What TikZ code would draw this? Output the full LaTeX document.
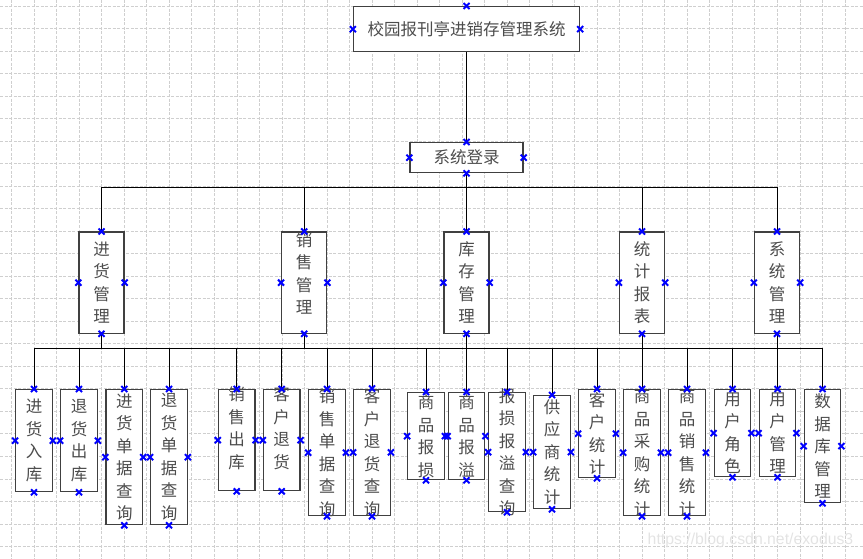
\documentclass[tikz,border=0pt]{standalone}
\usepackage{fontspec}
\newfontfamily\cjk{Noto Sans CJK SC}
\newfontfamily\wmfont{Liberation Sans}
\usetikzlibrary{shapes.misc}

\tikzset{
  gridline/.style={gray!38, line width=0.8pt, dash pattern=on 3pt off 1.5pt},
  conn/.style={line width=0.9pt},
  box/.style={draw=black!75, line width=1.3pt, fill=white, inner sep=0pt,
    minimum width=36.5, anchor=north},
  txt/.style={font=\cjk\fontsize{16.5}{22.5}\selectfont, text=black!70,
    align=center, inner sep=0pt},
  cpt/.style={cross out, draw=blue, line width=2pt, minimum size=4pt, inner sep=0pt},
}

\begin{document}
\begin{tikzpicture}[x=1pt, y=-1pt]
\useasboundingbox (0,0) rectangle (863,559);

\foreach \i in {0,...,37} \draw[gridline] ({11.7+22.52*\i},0) -- ++(0,559);
\foreach \j in {0,...,24} \draw[gridline] (0,{6+22.52*\j}) -- ++(863,0);

\node[box, minimum width=226, minimum height=45] (title) at (466.5,6) {};
\node[txt] (titleT) at (title) {校园报刊亭进销存管理系统};
\node[box, minimum width=113, minimum height=30] (login) at (466.5,142) {};
\node[txt] (loginT) at (login) {系统登录};

\node[box, minimum width=45, minimum height=101] (jhgl) at (101.5,231.5) {};
\node[box, minimum width=45, minimum height=101] (xsgl) at (304.2,231.5) {};
\node[box, minimum width=45, minimum height=101] (kcgl) at (466.5,231.5) {};
\node[box, minimum width=45, minimum height=101] (tjbb) at (642,231.5) {};
\node[box, minimum width=45, minimum height=101] (xtgl) at (777,231.5) {};
\node[txt] (jhglT) at (jhgl) {进\\货\\管\\理};
\node[txt, yshift=9pt] (xsglT) at (xsgl) {销\\售\\管\\理};
\node[txt] (kcglT) at (kcgl) {库\\存\\管\\理};
\node[txt] (tjbbT) at (tjbb) {统\\计\\报\\表};
\node[txt] (xtglT) at (xtgl) {系\\统\\管\\理};

\node[box, minimum height=102] (jhrk) at (34,389) {};
\node[box, minimum height=102] (thck) at (79,389) {};
\node[box, minimum height=135] (jhdj) at (124.3,389) {};
\node[box, minimum height=135] (thdj) at (169,389) {};
\node[box, minimum height=101] (xsck) at (236.7,389) {};
\node[box, minimum height=101] (khth) at (281.7,389) {};
\node[box, minimum height=126] (xsdj) at (327,389) {};
\node[box, minimum height=126.5] (khcx) at (372,388.5) {};
\node[box, minimum height=87] (spbs) at (426,392) {};
\node[box, minimum height=87] (spby) at (466.5,392) {};
\node[box, minimum height=119] (bycx) at (507,392) {};
\node[box, minimum height=113] (gystj) at (552,395) {};
\node[box, minimum height=88] (khtj) at (597,389) {};
\node[box, minimum height=126] (cgtj) at (642,389) {};
\node[box, minimum height=126] (xstj) at (687,389) {};
\node[box, minimum height=87] (yhjs) at (732.5,389) {};
\node[box, minimum height=87] (yhgl) at (777.5,389) {};
\node[box, minimum height=113] (sjkgl) at (822.5,389) {};

\node[txt] (jhrkT) at (jhrk) {进\\货\\入\\库};
\node[txt] (thckT) at (thck) {退\\货\\出\\库};
\node[txt] (jhdjT) at (jhdj) {进\\货\\单\\据\\查\\询};
\node[txt] (thdjT) at (thdj) {退\\货\\单\\据\\查\\询};
\node[txt, yshift=12pt] (xsckT) at (xsck) {销\\售\\出\\库};
\node[txt, yshift=12pt] (khthT) at (khth) {客\\户\\退\\货};
\node[txt] (xsdjT) at (xsdj) {销\\售\\单\\据\\查\\询};
\node[txt] (khcxT) at (khcx) {客\\户\\退\\货\\查\\询};
\node[txt] (spbsT) at (spbs) {商\\品\\报\\损};
\node[txt] (spbyT) at (spby) {商\\品\\报\\溢};
\node[txt] (bycxT) at (bycx) {报\\损\\报\\溢\\查\\询};
\node[txt] (gystjT) at (gystj) {供\\应\\商\\统\\计};
\node[txt] (khtjT) at (khtj) {客\\户\\统\\计};
\node[txt] (cgtjT) at (cgtj) {商\\品\\采\\购\\统\\计};
\node[txt] (xstjT) at (xstj) {商\\品\\销\\售\\统\\计};
\node[txt] (yhjsT) at (yhjs) {用\\户\\角\\色};
\node[txt] (yhglT) at (yhgl) {用\\户\\管\\理};
\node[txt] (sjkglT) at (sjkgl) {数\\据\\库\\管\\理};

\coordinate (bus1) at (466.5,187);
\coordinate (bus2) at (466.5,348);

\draw[conn] (title.south) -- (login.north);
\draw[conn] (login.south) -- (bus1);
\foreach \n in {jhgl,xsgl,kcgl,tjbb,xtgl} {
  \draw[conn] (\n.north) |- (bus1);
  \draw[conn] (\n.south) |- (bus2);
}
\foreach \n in {jhrk,thck,jhdj,thdj,xsck,khth,xsdj,khcx,spbs,spby,bycx,gystj,khtj,cgtj,xstj,yhjs,yhgl,sjkgl}
  \draw[conn] (\n.north) |- (bus2);

\foreach \a in {north,east,west} \node[cpt] (title-\a) at (title.\a) {};
\foreach \n in {login,jhgl,xsgl,kcgl,tjbb,xtgl,jhrk,thck,jhdj,thdj,xsck,khth,xsdj,khcx,spbs,spby,bycx,gystj,khtj,cgtj,xstj,yhjs,yhgl,sjkgl}
  \foreach \a in {north,south,east,west} \node[cpt] (\n-\a) at (\n.\a) {};

\node[font=\wmfont\fontsize{15.8}{18}\selectfont, text=gray!22] (wm) at (750.5,540) {https://blog.csdn.net/exodus3};
\end{tikzpicture}
\end{document}
